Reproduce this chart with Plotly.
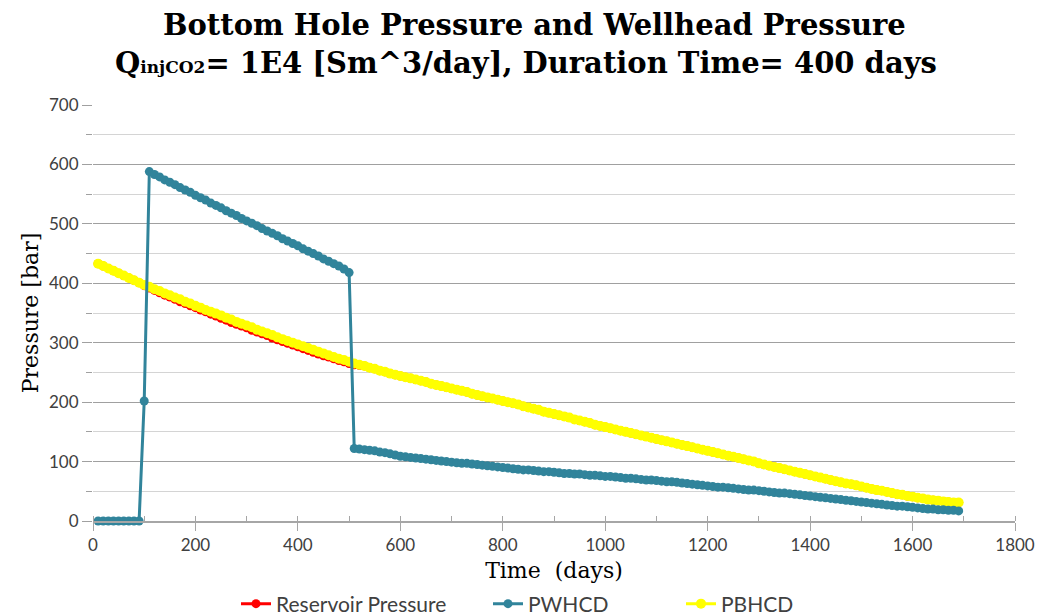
import plotly.graph_objects as go

time_days = [10, 20, 30, 40, 50, 60, 70, 80, 90, 100,
             110, 120, 130, 140, 150, 160, 170, 180, 190, 200,
             210, 220, 230, 240, 250, 260, 270, 280, 290, 300,
             310, 320, 330, 340, 350, 360, 370, 380, 390, 400,
             410, 420, 430, 440, 450, 460, 470, 480, 490, 500,
             510, 520, 530, 540, 550, 560, 570, 580, 590, 600,
             610, 620, 630, 640, 650, 660, 670, 680, 690, 700,
             710, 720, 730, 740, 750, 760, 770, 780, 790, 800,
             810, 820, 830, 840, 850, 860, 870, 880, 890, 900,
             910, 920, 930, 940, 950, 960, 970, 980, 990, 1000,
             1010, 1020, 1030, 1040, 1050, 1060, 1070, 1080, 1090, 1100,
             1110, 1120, 1130, 1140, 1150, 1160, 1170, 1180, 1190, 1200,
             1210, 1220, 1230, 1240, 1250, 1260, 1270, 1280, 1290, 1300,
             1310, 1320, 1330, 1340, 1350, 1360, 1370, 1380, 1390, 1400,
             1410, 1420, 1430, 1440, 1450, 1460, 1470, 1480, 1490, 1500,
             1510, 1520, 1530, 1540, 1550, 1560, 1570, 1580, 1590, 1600,
             1610, 1620, 1630, 1640, 1650, 1660, 1670, 1680, 1690]

reservoir_pressure = [433, 429, 425, 421, 417, 413, 409, 405, 401, 396,
                      392, 388, 384, 380, 377, 373, 369, 366, 362, 359,
                      355, 352, 348, 345, 341, 338, 334, 331, 328, 325,
                      321, 318, 315, 312, 308, 305, 302, 299, 296, 293,
                      290, 287, 284, 281, 278, 276, 273, 270, 268, 265,
                      263, 262, 261, 258, 256, 253, 251, 248, 246, 244,
                      242, 240, 238, 236, 234, 231, 229, 227, 225, 223,
                      221, 219, 217, 214, 212, 210, 208, 206, 204, 202,
                      200, 198, 196, 193, 191, 189, 187, 184, 182, 180,
                      178, 176, 174, 171, 169, 167, 165, 162, 160, 158,
                      156, 154, 152, 150, 148, 146, 144, 142, 140, 138,
                      136, 134, 132, 130, 128, 126, 124, 122, 120, 118,
                      116, 114, 112, 110, 108, 106, 104, 102, 100, 97,
                      95, 93, 91, 89, 87, 85, 83, 81, 79, 77,
                      75, 73, 71, 69, 67, 65, 63, 62, 60, 58,
                      56, 54, 52, 51, 49, 47, 45, 44, 42, 41,
                      39, 38, 36, 35, 34, 33, 32, 31, 31]

pwhcd = [0, 0, 0, 0, 0, 0, 0, 0, 0, 202,
         588, 583, 579, 574, 570, 566, 561, 557, 553, 548,
         544, 540, 535, 531, 527, 522, 518, 514, 509, 505,
         501, 497, 492, 488, 484, 480, 475, 471, 467, 463,
         458, 454, 450, 446, 441, 437, 433, 429, 424, 418,
         122, 121, 120, 119, 118, 116, 115, 113, 111, 109,
         108, 107, 106, 105, 104, 103, 102, 101, 100, 99,
         98, 97, 97, 96, 95, 94, 93, 92, 91, 90,
         89, 88, 87, 86, 86, 85, 84, 83, 83, 82,
         81, 80, 80, 79, 79, 78, 77, 77, 76, 75,
         75, 74, 73, 72, 72, 71, 70, 69, 69, 68,
         67, 66, 66, 65, 64, 63, 62, 61, 60, 59,
         58, 57, 57, 56, 55, 54, 53, 52, 52, 51,
         50, 49, 48, 47, 47, 46, 45, 44, 43, 42,
         41, 40, 39, 38, 37, 36, 35, 34, 33, 32,
         31, 30, 29, 28, 27, 26, 25, 25, 24, 23,
         22, 21, 20, 20, 19, 19, 18, 18, 17]

pbhcd = [433, 429, 425, 421, 417, 413, 409, 405, 401, 397,
         394, 390, 387, 383, 380, 376, 373, 369, 366, 362,
         359, 355, 352, 349, 346, 342, 339, 335, 332, 329,
         326, 322, 319, 316, 313, 309, 306, 303, 300, 297,
         294, 291, 288, 285, 282, 279, 276, 273, 271, 268,
         265, 263, 261, 258, 256, 253, 251, 248, 246, 244,
         242, 240, 238, 236, 234, 231, 229, 227, 225, 223,
         221, 219, 217, 214, 212, 210, 208, 206, 204, 202,
         200, 198, 196, 193, 191, 189, 187, 184, 182, 180,
         178, 176, 174, 171, 169, 167, 165, 162, 160, 158,
         156, 154, 152, 150, 148, 146, 144, 142, 140, 138,
         136, 134, 132, 130, 128, 126, 124, 122, 120, 118,
         116, 114, 112, 110, 108, 106, 104, 102, 100, 97,
         95, 93, 91, 89, 87, 85, 83, 81, 79, 77,
         75, 73, 71, 69, 67, 65, 63, 62, 60, 58,
         56, 54, 52, 51, 49, 47, 45, 44, 42, 41,
         39, 38, 36, 35, 34, 33, 32, 31, 31]

x_ticks = [0, 200, 400, 600, 800, 1000, 1200, 1400, 1600, 1800]
y_ticks = [0, 100, 200, 300, 400, 500, 600, 700]

title_line1 = "Bottom Hole Pressure and Wellhead Pressure"
title_line2 = "Q<span style='font-size:17px'>injCO2</span>= 1E4 [Sm^3/day], Duration Time= 400 days"

RED = "#FF0000"
BLUE = "#31849B"
YELLOW = "#FFFF00"
TICK_FONT = dict(family="Lato, sans-serif", size=17, color="#404040")
LEG_FONT = dict(family="Lato, sans-serif", size=21, color="#404040")
TITLE_FONT = dict(family="DejaVu Serif, serif", size=29, color="black", weight="bold")
AXTITLE_FONT = dict(family="DejaVu Serif, serif", size=22, color="black")

fig = go.Figure()
fig.add_trace(go.Scatter(x=time_days, y=reservoir_pressure, name="Reservoir Pressure", mode="lines+markers",
                         line=dict(color=RED, width=3), marker=dict(color=RED, size=9),
                         legend="legend", showlegend=True, cliponaxis=False))
fig.add_trace(go.Scatter(x=time_days, y=pbhcd, name="PBHCD", mode="lines+markers",
                         line=dict(color=YELLOW, width=3), marker=dict(color=YELLOW, size=10),
                         legend="legend3", showlegend=True, cliponaxis=False))
fig.add_trace(go.Scatter(x=time_days, y=pwhcd, name="PWHCD", mode="lines+markers",
                         line=dict(color=BLUE, width=3), marker=dict(color=BLUE, size=9),
                         legend="legend2", showlegend=True, cliponaxis=False))

leg_common = dict(orientation="h", xref="container", yref="container", yanchor="middle",
                  y=(616 - 604) / 616, xanchor="left", font=LEG_FONT,
                  bgcolor="rgba(0,0,0,0)", itemwidth=30)

fig.update_layout(
    width=1041, height=616,
    margin=dict(l=93, r=26, t=105, b=95, autoexpand=False),
    paper_bgcolor="white", plot_bgcolor="white",
    showlegend=True,
    xaxis=dict(
        range=[0, 1800], tickvals=x_ticks, showgrid=False, zeroline=False, automargin=False,
        showline=True, linecolor="#A6A6A6", linewidth=1.5,
        ticks="outside", ticklen=8, tickcolor="#A6A6A6",
        minor=dict(dtick=100, ticks="inside", ticklen=5, tickcolor="#A6A6A6"),
        tickfont=TICK_FONT,
        title=dict(text="Time  (days)", standoff=12, font=AXTITLE_FONT),
    ),
    yaxis=dict(
        range=[0, 700], tickvals=y_ticks, showgrid=True, gridcolor="#A0A0A0", gridwidth=1,
        zeroline=False, showline=False, automargin=False,
        ticks="outside", ticklen=10, tickcolor="#A0A0A0",
        minor=dict(dtick=50, showgrid=True, gridcolor="#D4D4D4", ticks="outside", ticklen=6, tickcolor="#A0A0A0"),
        tickfont=TICK_FONT,
        title=dict(text="Pressure [bar]", standoff=4, font=AXTITLE_FONT),
    ),
    legend=dict(leg_common, x=236 / 1041),
    legend2=dict(leg_common, x=488 / 1041),
    legend3=dict(leg_common, x=681 / 1041),
    annotations=[
        dict(text=title_line1, xref="paper", yref="paper", x=(534 - 93) / 922, y=(521 - 25) / 416,
             xanchor="center", yanchor="middle", showarrow=False, font=TITLE_FONT),
        dict(text=title_line2, xref="paper", yref="paper", x=(526 - 93) / 922, y=(521 - 63) / 416,
             xanchor="center", yanchor="middle", showarrow=False, font=TITLE_FONT),
    ],
)

fig.write_html("out.html")
